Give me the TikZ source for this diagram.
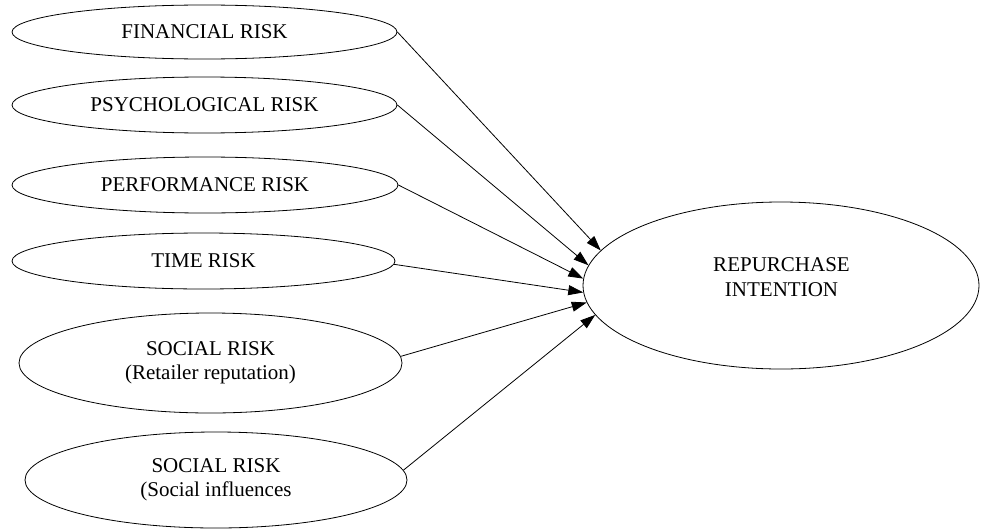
\documentclass[tikz,border=0pt]{standalone}
\usepackage{fontspec}
\setmainfont{Liberation Serif}
\usetikzlibrary{shapes.geometric,arrows.meta}
\begin{document}
\begin{tikzpicture}[x=1pt,y=-1pt,
  risk/.style={draw,ellipse,line width=0.8pt,inner sep=0pt,align=center,
    font=\fontsize{21}{24}\selectfont},
  link/.style={line width=0.8pt,-{Triangle[length=15pt,width=10pt]}}]
\useasboundingbox (0,0) rectangle (981,530);
\node[risk,minimum width=385pt,minimum height=54pt] (fin) at (204.5,32) {FINANCIAL RISK};
\node[risk,minimum width=385pt,minimum height=56pt] (psy) at (204.5,105) {PSYCHOLOGICAL RISK};
\node[risk,minimum width=386pt,minimum height=56pt] (per) at (205,185) {PERFORMANCE RISK};
\node[risk,minimum width=383pt,minimum height=56pt] (tim) at (203.5,261) {TIME RISK};
\node[risk,minimum width=383pt,minimum height=100pt] (sr1) at (210.5,363) {SOCIAL RISK\\(Retailer reputation)};
\node[risk,minimum width=382pt,minimum height=96pt] (sr2) at (216,480) {SOCIAL RISK\\(Social influences};
\node[risk,minimum width=396pt,minimum height=167pt] (rep) at (781,285.5) {};
\node[font=\fontsize{21}{25}\selectfont,align=center,inner sep=0pt] (reptxt) at (781.5,277.5) {REPURCHASE\\INTENTION};
\draw[link] (fin.east) -- (rep.169.2);
\draw[link] (psy.-0.9) -- (rep.174.4);
\draw[link] (per.-0.9) -- (rep.178);
\draw[link] (tim.-1.8) -- (rep.182);
\draw[link] (sr1.2.4) -- (rep.185.6);
\draw[link] (sr2.3.7) -- (rep.189.6);
\end{tikzpicture}
\end{document}
